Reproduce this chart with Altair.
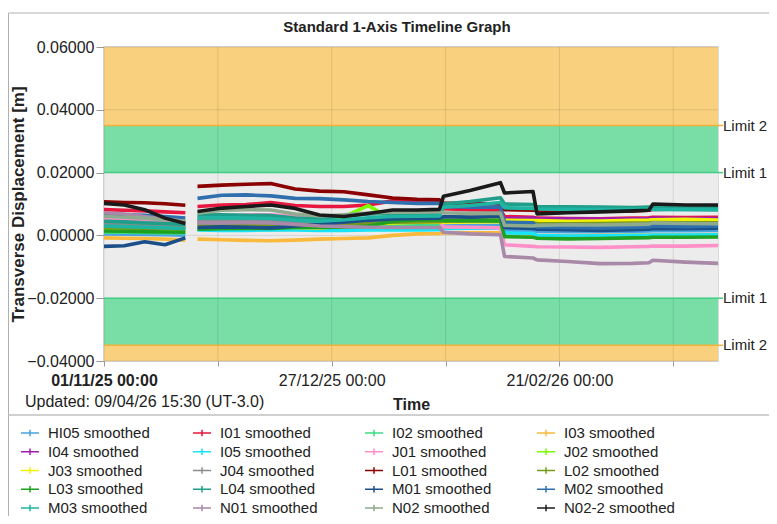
import altair as alt
import pandas as pd

TITLE = "Standard 1-Axis Timeline Graph"
Y_TITLE = "Transverse Displacement [m]"
X_TITLE = "Time"
UPDATED = "Updated: 09/04/26 15:30 (UT-3.0)"
START = pd.Timestamp("2025-11-01")
END = pd.Timestamp("2026-04-01")

# day offsets from 01/11/25 and the segment they belong to (gap between day 20 and 23)
days = [0, 5, 10, 15, 20, 23, 29, 35, 41, 47, 53, 59, 65, 71, 77, 82.5, 83.5, 90, 97.5,
        98.5, 105.5, 106.5, 114, 122, 130, 134, 135, 143, 151]
segment = [0, 0, 0, 0, 0] + [1] * 24

series_names = ["HI05 smoothed", "I01 smoothed", "I02 smoothed", "I03 smoothed",
                "I04 smoothed", "I05 smoothed", "J01 smoothed", "J02 smoothed",
                "J03 smoothed", "J04 smoothed", "L01 smoothed", "L02 smoothed",
                "L03 smoothed", "L04 smoothed", "M01 smoothed", "M02 smoothed",
                "M03 smoothed", "N01 smoothed", "N02 smoothed", "N02-2 smoothed"]
series_colors = ["#4aa3df", "#e8173f", "#3ddc84", "#f9b93c", "#a21caf", "#18e4f5",
                 "#ff8fc8", "#7cfc00", "#f2f200", "#8c8c8c", "#8b0000", "#7a9a1e",
                 "#20a020", "#1f9e89", "#1b4f8a", "#2f6fad", "#1fb5a3", "#a889a8",
                 "#8faa8f", "#1a1a1a"]

HI05 = [0.0005, 0.0004, 0.0003, 0.0002, 0.0001, 0.0020, 0.0021, 0.0020, 0.0019, 0.0020, 0.0021, 0.0022, 0.0024, 0.0026, 0.0026, 0.0027, 0.0030, 0.0031, 0.0032, 0.0015, 0.0014, 0.0013, 0.0012, 0.0012, 0.0013, 0.0014, 0.0015, 0.0015, 0.0016]
I01 = [0.0082, 0.0080, 0.0078, 0.0075, 0.0072, 0.0092, 0.0097, 0.0098, 0.0105, 0.0095, 0.0092, 0.0092, 0.0097, 0.0110, 0.0108, 0.0105, 0.0085, 0.0082, 0.0080, 0.0060, 0.0058, 0.0055, 0.0054, 0.0053, 0.0055, 0.0056, 0.0058, 0.0057, 0.0058]
I02 = [0.0010, 0.0010, 0.0009, 0.0008, 0.0008, 0.0030, 0.0031, 0.0030, 0.0030, 0.0028, 0.0028, 0.0030, 0.0033, 0.0035, 0.0036, 0.0036, 0.0052, 0.0055, 0.0057, 0.0050, 0.0049, 0.0048, 0.0047, 0.0047, 0.0048, 0.0049, 0.0050, 0.0049, 0.0049]
I03 = [-0.0008, -0.0009, -0.0010, -0.0012, -0.0015, -0.0012, -0.0014, -0.0016, -0.0017, -0.0015, -0.0012, -0.0010, -0.0008, 0.0000, 0.0005, 0.0006, 0.0008, 0.0008, 0.0008, 0.0003, 0.0002, 0.0000, -0.0001, 0.0000, 0.0001, 0.0001, 0.0002, 0.0002, 0.0003]
I04 = [0.0035, 0.0034, 0.0032, 0.0030, 0.0028, 0.0045, 0.0046, 0.0045, 0.0044, 0.0041, 0.0040, 0.0042, 0.0045, 0.0047, 0.0048, 0.0048, 0.0050, 0.0050, 0.0051, 0.0054, 0.0055, 0.0054, 0.0053, 0.0052, 0.0053, 0.0054, 0.0055, 0.0054, 0.0054]
I05 = [0.0025, 0.0024, 0.0022, 0.0020, 0.0018, 0.0017, 0.0016, 0.0016, 0.0017, 0.0017, 0.0016, 0.0016, 0.0017, 0.0017, 0.0017, 0.0018, 0.0022, 0.0023, 0.0024, 0.0008, 0.0006, 0.0000, -0.0002, -0.0001, 0.0000, 0.0000, 0.0001, 0.0001, 0.0002]
J01 = [0.0050, 0.0048, 0.0046, 0.0044, 0.0040, 0.0060, 0.0062, 0.0065, 0.0066, 0.0060, 0.0052, 0.0049, 0.0048, 0.0049, 0.0048, 0.0047, 0.0027, 0.0026, 0.0024, -0.0030, -0.0035, -0.0036, -0.0037, -0.0038, -0.0036, -0.0035, -0.0034, -0.0034, -0.0032]
J02 = [0.0028, 0.0027, 0.0026, 0.0025, 0.0024, 0.0038, 0.0039, 0.0038, 0.0037, 0.0034, 0.0036, 0.0060, 0.0095, 0.0050, 0.0046, 0.0045, 0.0048, 0.0049, 0.0050, 0.0042, 0.0041, 0.0040, 0.0040, 0.0041, 0.0042, 0.0043, 0.0044, 0.0043, 0.0043]
J03 = [0.0020, 0.0019, 0.0018, 0.0016, 0.0015, 0.0028, 0.0029, 0.0028, 0.0027, 0.0025, 0.0024, 0.0030, 0.0036, 0.0040, 0.0042, 0.0043, 0.0042, 0.0043, 0.0044, 0.0048, 0.0047, 0.0047, 0.0045, 0.0046, 0.0048, 0.0049, 0.0050, 0.0051, 0.0049]
J04 = [0.0040, 0.0038, 0.0036, 0.0034, 0.0032, 0.0050, 0.0052, 0.0051, 0.0050, 0.0046, 0.0044, 0.0046, 0.0050, 0.0055, 0.0056, 0.0056, 0.0058, 0.0060, 0.0062, 0.0028, 0.0026, 0.0025, 0.0027, 0.0028, 0.0029, 0.0030, 0.0031, 0.0030, 0.0030]
L01 = [0.0107, 0.0105, 0.0104, 0.0101, 0.0096, 0.0156, 0.0160, 0.0163, 0.0165, 0.0148, 0.0141, 0.0139, 0.0129, 0.0119, 0.0115, 0.0113, 0.0103, 0.0102, 0.0100, 0.0082, 0.0080, 0.0079, 0.0078, 0.0079, 0.0078, 0.0080, 0.0083, 0.0084, 0.0083]
L02 = [0.0025, 0.0024, 0.0023, 0.0021, 0.0020, 0.0035, 0.0036, 0.0035, 0.0034, 0.0030, 0.0030, 0.0034, 0.0038, 0.0042, 0.0043, 0.0044, 0.0045, 0.0046, 0.0046, 0.0040, 0.0039, 0.0038, 0.0037, 0.0038, 0.0039, 0.0040, 0.0041, 0.0040, 0.0040]
L03 = [0.0014, 0.0013, 0.0012, 0.0011, 0.0010, 0.0020, 0.0021, 0.0022, 0.0022, 0.0025, 0.0025, 0.0026, 0.0030, 0.0045, 0.0049, 0.0049, 0.0048, 0.0047, 0.0046, -0.0004, -0.0006, -0.0009, -0.0011, -0.0010, -0.0008, -0.0007, -0.0006, -0.0006, -0.0005]
L04 = [0.0045, 0.0043, 0.0040, 0.0038, 0.0035, 0.0065, 0.0066, 0.0064, 0.0063, 0.0055, 0.0054, 0.0062, 0.0068, 0.0070, 0.0070, 0.0071, 0.0100, 0.0108, 0.0120, 0.0100, 0.0098, 0.0092, 0.0091, 0.0090, 0.0089, 0.0090, 0.0089, 0.0087, 0.0088]
M01 = [-0.0035, -0.0033, -0.0020, -0.0030, -0.0008, 0.0025, 0.0027, 0.0026, 0.0024, 0.0030, 0.0035, 0.0042, 0.0048, 0.0052, 0.0054, 0.0055, 0.0060, 0.0058, 0.0060, 0.0025, 0.0022, 0.0020, 0.0018, 0.0016, 0.0018, 0.0020, 0.0022, 0.0021, 0.0023]
M02 = [0.0068, 0.0066, 0.0064, 0.0060, 0.0055, 0.0118, 0.0128, 0.0129, 0.0126, 0.0118, 0.0117, 0.0113, 0.0108, 0.0105, 0.0102, 0.0102, 0.0092, 0.0090, 0.0090, 0.0042, 0.0040, 0.0027, 0.0025, 0.0024, 0.0026, 0.0027, 0.0030, 0.0028, 0.0030]
M03 = [0.0030, 0.0028, 0.0026, 0.0024, 0.0022, 0.0055, 0.0056, 0.0055, 0.0054, 0.0048, 0.0045, 0.0050, 0.0056, 0.0060, 0.0061, 0.0062, 0.0090, 0.0095, 0.0105, 0.0088, 0.0086, 0.0084, 0.0083, 0.0082, 0.0083, 0.0084, 0.0083, 0.0082, 0.0081]
N01 = [0.0072, 0.0068, 0.0060, 0.0052, 0.0045, 0.0040, 0.0040, 0.0041, 0.0040, 0.0035, 0.0030, 0.0028, 0.0026, 0.0025, 0.0025, 0.0025, 0.0010, 0.0005, 0.0002, -0.0067, -0.0072, -0.0078, -0.0083, -0.0090, -0.0089, -0.0087, -0.0079, -0.0085, -0.0089]
N02 = [0.0060, 0.0058, 0.0055, 0.0050, 0.0045, 0.0071, 0.0080, 0.0082, 0.0081, 0.0068, 0.0062, 0.0066, 0.0071, 0.0075, 0.0074, 0.0075, 0.0072, 0.0070, 0.0071, 0.0032, 0.0030, 0.0032, 0.0034, 0.0033, 0.0035, 0.0036, 0.0040, 0.0038, 0.0037]
N02_2 = [0.0102, 0.0097, 0.0082, 0.0055, 0.0038, 0.0076, 0.0087, 0.0092, 0.0097, 0.0086, 0.0065, 0.0060, 0.0070, 0.0081, 0.0081, 0.0083, 0.0125, 0.0143, 0.0168, 0.0135, 0.0140, 0.0068, 0.0072, 0.0075, 0.0078, 0.0080, 0.0100, 0.0097, 0.0097]

series_values = [HI05, I01, I02, I03, I04, I05, J01, J02, J03, J04,
                 L01, L02, L03, L04, M01, M02, M03, N01, N02, N02_2]

# background bands and limits
band_lo = [0.035, 0.020, -0.020, -0.035, -0.040]
band_hi = [0.060, 0.035, 0.020, -0.020, -0.035]
band_col = ["#f8d07e", "#78dea6", "#ececec", "#78dea6", "#f8d07e"]
limit_vals = [0.035, 0.020, -0.020, -0.035]
limit_text = ["Limit 2", "Limit 1", "Limit 1", "Limit 2"]
limit_col = ["#f3b13a", "#3fcf82", "#3fcf82", "#f3b13a"]
y_ticks = [-0.04, -0.02, 0.0, 0.02, 0.04, 0.06]
x_tick_days = [0, 28, 56, 84, 112, 140]
x_label_every_days = 56

W, H = 614, 314
FONT = "Liberation Sans"
TXT = "#222222"
DAY_MS = 86400000


def iso(ts):
    return ts.strftime("%Y-%m-%dT%H:%M:%SZ")


rows = []
for name, vals in zip(series_names, series_values):
    for d, s, v in zip(days, segment, vals):
        rows.append({"time": iso(START + pd.Timedelta(days=d)), "value": v,
                     "series": name, "seg": s})
df = pd.DataFrame(rows)

bands = pd.DataFrame({"lo": band_lo, "hi": band_hi, "col": band_col})
limits = pd.DataFrame({"v": limit_vals, "t": limit_text, "col": limit_col})
hgrid = pd.DataFrame({"v": y_ticks})
tick_times = [START + pd.Timedelta(days=d) for d in x_tick_days]
vgrid = pd.DataFrame({"time": [iso(t) for t in tick_times]})
one = pd.DataFrame({"k": [0]})

t0_ms = int(START.timestamp() * 1000)
day_expr = f"round((+datum.value - {t0_ms}) / {DAY_MS})"


def dt(ts):
    return alt.DateTime(year=ts.year, month=ts.month, date=ts.day, utc=True)


x_scale = alt.Scale(type="utc", domain=[dt(START), dt(END)], nice=False)
y_scale = alt.Scale(domain=[-0.04, 0.06], nice=False, zero=False)

x_axis = alt.Axis(
    values=[dt(t) for t in tick_times],
    labelExpr=f"{day_expr} % {x_label_every_days} == 0 ? "
              "utcFormat(datum.value, '%d/%m/%y %H:%M') : ''",
    labelFont=FONT, labelFontSize=16, labelColor=TXT, labelFlush=False,
    labelOverlap=False, labelPadding=6,
    labelFontWeight={"condition": {"test": f"{day_expr} == 0", "value": "bold"},
                     "value": "normal"},
    tickSize=5, tickColor="#999999", domain=False, grid=False,
    title=X_TITLE, titleFont=FONT, titleFontSize=16, titleFontWeight="bold",
    titleColor=TXT, titlePadding=8)

y_axis = alt.Axis(
    values=y_ticks, format=".5f", labelFont=FONT, labelFontSize=16, labelColor=TXT,
    labelPadding=2, tickSize=8, tickColor="#999999", domain=False, grid=False,
    title=Y_TITLE, titleFont=FONT, titleFontSize=17, titleFontWeight="bold",
    titleColor=TXT, titlePadding=-1)

lines = alt.Chart(df).mark_line(strokeWidth=3.6, strokeJoin="round").encode(
    x=alt.X("time:T", scale=x_scale, axis=x_axis),
    y=alt.Y("value:Q", scale=y_scale, axis=y_axis),
    color=alt.Color("series:N",
                    scale=alt.Scale(domain=series_names, range=series_colors),
                    legend=alt.Legend(orient="none", direction="horizontal",
                                      legendX=-84, legendY=376,
                                      columns=4, gridAlign="all", columnPadding=31,
                                      rowPadding=0.75, symbolType="M-1,0H1M0,-0.35V0.35",
                                      symbolSize=324, symbolStrokeWidth=1.5,
                                      labelFont=FONT, labelFontSize=15, labelColor=TXT,
                                      labelOffset=8, labelLimit=300, title=None,
                                      padding=0)),
    detail="seg:N")

band_layer = alt.Chart(bands).mark_rect().encode(
    x=alt.value(0), x2=alt.value(W),
    y=alt.Y("lo:Q", scale=y_scale), y2="hi:Q",
    fill=alt.Fill("col:N", scale=None))

vgrid_layer = alt.Chart(vgrid).mark_rule(color="#000000", opacity=0.1, strokeWidth=1).encode(
    x=alt.X("time:T", scale=x_scale))

hgrid_layer = alt.Chart(hgrid).mark_rule(color="#000000", opacity=0.1, strokeWidth=1).encode(
    y=alt.Y("v:Q", scale=y_scale))

limit_lines = alt.Chart(limits).mark_rule(strokeWidth=1.5).encode(
    y=alt.Y("v:Q", scale=y_scale),
    stroke=alt.Stroke("col:N", scale=None))

limit_ticks = alt.Chart(limits).mark_rule(strokeWidth=1.5).encode(
    x=alt.value(W), x2=alt.value(W + 5),
    y=alt.Y("v:Q", scale=y_scale),
    stroke=alt.Stroke("col:N", scale=None))

limit_labels = alt.Chart(limits).mark_text(
    align="left", baseline="middle", font=FONT, fontSize=15, color=TXT).encode(
    x=alt.value(W + 5),
    y=alt.Y("v:Q", scale=y_scale),
    text="t:N")

title_mark = alt.Chart(one).mark_text(
    align="center", baseline="middle", font=FONT, fontSize=15, fontWeight="bold",
    color=TXT).encode(x=alt.value(293), y=alt.value(-20), text=alt.value(TITLE))

frame = alt.Chart(one).mark_rule(color="#b0b0b0", strokeWidth=1)
frame_top = frame.encode(x=alt.value(-95.5), x2=alt.value(W + 60), y=alt.value(-34))
frame_left = frame.encode(x=alt.value(-95.5), y=alt.value(-34), y2=alt.value(H + 200))
frame_sep = alt.Chart(one).mark_rule(color="#c0c0c0", strokeWidth=1.5).encode(
    x=alt.value(-95.5), x2=alt.value(W + 60), y=alt.value(368))

updated = alt.Chart(one).mark_text(
    align="left", baseline="middle", font=FONT, fontSize=16, color=TXT).encode(
    x=alt.value(-79), y=alt.value(355), text=alt.value(UPDATED))

chart = alt.layer(
    band_layer, vgrid_layer, hgrid_layer, limit_lines, lines, limit_ticks,
    limit_labels, title_mark, frame_top, frame_left, frame_sep, updated
).properties(
    width=W, height=H,
    autosize=alt.AutoSizeParams(type="none"),
    padding={"left": 96, "top": 39, "right": 51, "bottom": 155},
).configure(font=FONT).configure_view(stroke="#cfcfcf", strokeWidth=1.5)

chart.save("out.html", embed_options={"renderer": "svg", "actions": False})
